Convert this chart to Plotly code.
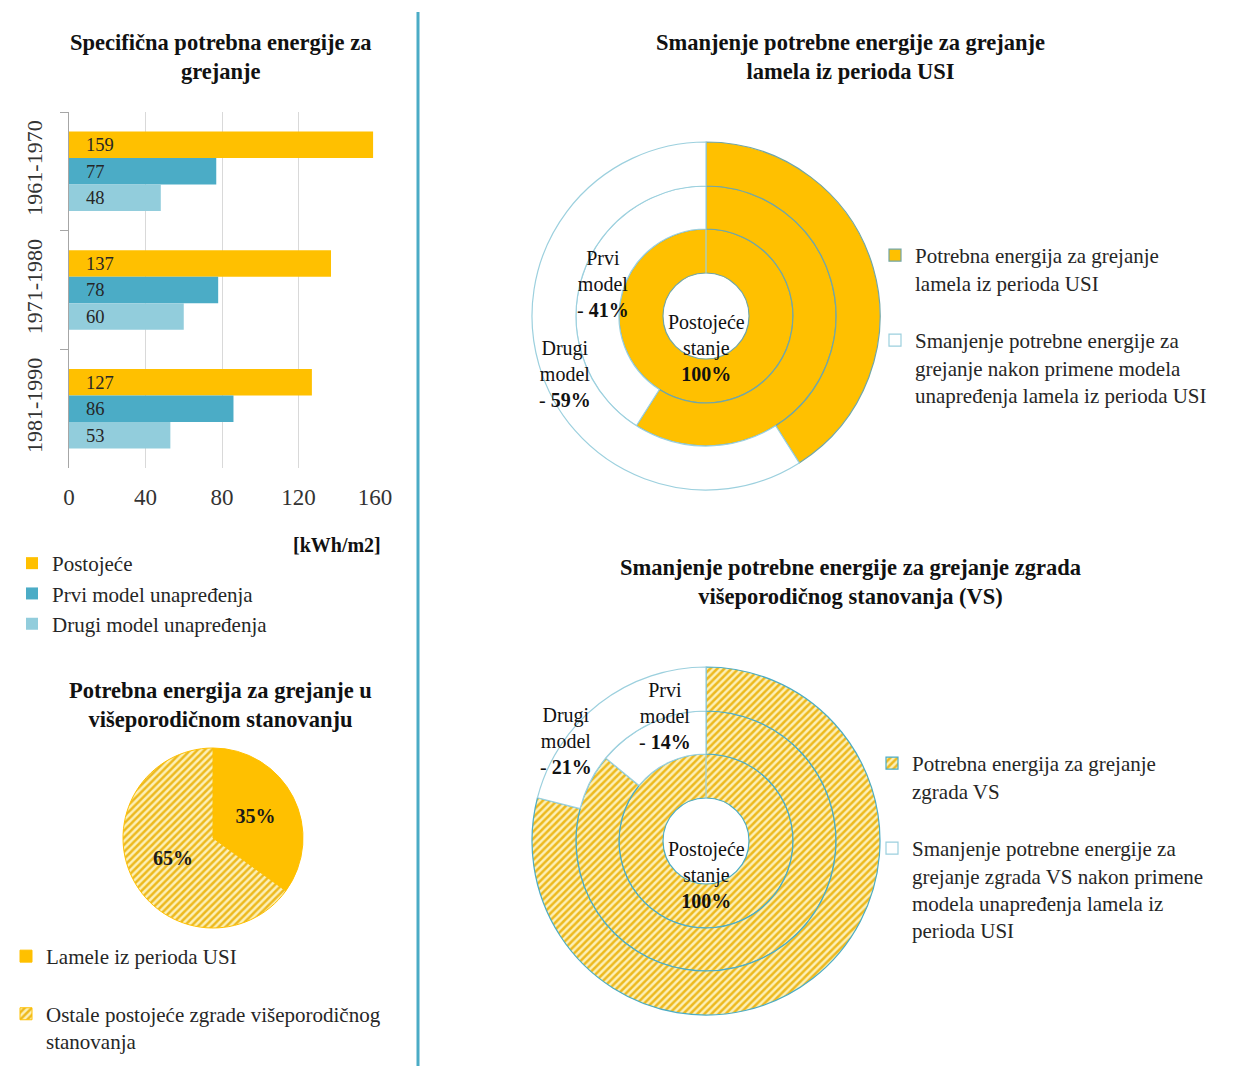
import plotly.graph_objects as go

W, H = 1234, 1066
SERIF = "Liberation Serif"
TEXT = "#262626"

# ---- bar chart data: specific heating energy demand [kWh/m2] ----
periods = ["1961-1970", "1971-1980", "1981-1990"]
existing = [159, 137, 127]
model_1 = [77, 78, 86]
model_2 = [48, 60, 53]
bar_series = ["Postojeće", "Prvi model unapređenja", "Drugi model unapređenja"]
bar_colors = ["#FFC000", "#4BACC6", "#92CDDC"]
x_ticks = [0, 40, 80, 120, 160]

# ---- pie data: share of multi-family housing heating demand [%] ----
share_labels = ["Lamele iz perioda USI<br> ",
                "Ostale postojeće zgrade višeporodičnog<br>stanovanja"]
share_values = [35, 65]

# ---- donut data: remaining demand / reduction per scenario [%] ----
ring_names = ["Postojeće stanje", "Prvi model", "Drugi model"]
usi_remaining = [100, 59, 41]
usi_reduction = [0, 41, 59]
vs_remaining = [100, 86, 79]
vs_reduction = [0, 14, 21]

usi_legend = ["Potrebna energija za grejanje<br>lamela iz perioda USI<br> ",
              "Smanjenje potrebne energije za<br>grejanje nakon primene modela<br>"
              "unapređenja lamela iz perioda USI"]
vs_legend = ["Potrebna energija za grejanje<br>zgrada VS<br> ",
             "Smanjenje potrebne energije za<br>grejanje zgrada VS nakon primene<br>"
             "modela unapređenja lamela iz<br>perioda USI"]


def px(x):
    return x / W


def py(y):
    return 1 - y / H


def circle_domain(cx, cy, r):
    return dict(x=[px(cx - r), px(cx + r)], y=[py(cy + r), py(cy - r)])


HATCH_FG = "#EDB91E"
HATCH_BG = "#FCF0B8"

fig = go.Figure()

# grouped horizontal bars
for name, vals, color in zip(bar_series, [existing, model_1, model_2], bar_colors):
    fig.add_trace(go.Bar(
        y=periods, x=vals, orientation="h", name=name,
        marker=dict(color=color, line=dict(width=0)),
        texttemplate="\u00a0\u00a0\u00a0%{x}", textposition="inside",
        insidetextanchor="start", textangle=0,
        textfont=dict(family=SERIF, size=19, color=TEXT),
        legend="legend", xaxis="x", yaxis="y",
    ))

# share pie
fig.add_trace(go.Pie(
    values=share_values, labels=share_labels, sort=False,
    direction="clockwise", rotation=0,
    domain=circle_domain(213, 838, 90),
    marker=dict(colors=["#FFC000", HATCH_BG],
                pattern=dict(shape=["", "/"], fgcolor=["#FFC000", HATCH_FG],
                             bgcolor=["#FFC000", HATCH_BG], size=5, solidity=0.5),
                line=dict(color="#FFC000", width=1)),
    texttemplate="<b>%{percent:.0%}</b>", textposition="inside",
    insidetextorientation="horizontal",
    textfont=dict(family=SERIF, size=20, color="#1a1a1a"),
    legend="legend2", hoverinfo="label+percent",
))

# concentric donut rings: inner = existing state, then model 1, model 2
RADII = [43, 87, 130, 174]


def add_rings(cx, cy, remaining, reduction, labels, legend_name, hatched):
    for i in range(3):
        if hatched:
            marker = dict(
                colors=[HATCH_BG, "white"],
                pattern=dict(shape=["/", ""], fgcolor=[HATCH_FG, "white"],
                             bgcolor=[HATCH_BG, "white"], size=5, solidity=0.5),
                line=dict(color=["#4BACC6", "#9CD0DE"], width=1.2))
        else:
            marker = dict(colors=["#FFC000", "white"],
                          line=dict(color=["#72A6A6", "#9CD0DE"], width=1.2))
        fig.add_trace(go.Pie(
            values=[remaining[i], reduction[i]], labels=labels,
            name=ring_names[i], sort=False, direction="clockwise", rotation=0,
            hole=RADII[i] / RADII[i + 1],
            domain=circle_domain(cx, cy, RADII[i + 1]),
            marker=marker, textinfo="none",
            showlegend=(i == 1), legend=legend_name,
            hoverinfo="name+label+value",
        ))


add_rings(706, 316, usi_remaining, usi_reduction, usi_legend, "legend3", False)
add_rings(706, 841, vs_remaining, vs_reduction, vs_legend, "legend4", True)


def note(x, y, text, size=20, bold=False):
    return dict(x=px(x), y=py(y), xref="paper", yref="paper", showarrow=False,
                xanchor="center", yanchor="middle", align="center",
                text=f"<b>{text}</b>" if bold else text,
                font=dict(family=SERIF, size=size, color="#111111"))


def ring_label(name, pct):
    first, second = name.split(" ")
    return f"{first}<br>{second}<br>- <b>{pct}%</b>"


annotations = [
    note(220, 57, "Specifična potrebna energije za<br>grejanje", 22.5, True),
    note(220, 705, "Potrebna energija za grejanje u<br>višeporodičnom stanovanju", 22.5, True),
    note(850, 57, "Smanjenje potrebne energije za grejanje<br>lamela iz perioda USI", 22.5, True),
    note(850, 582, "Smanjenje potrebne energije za grejanje zgrada<br>"
                   "višeporodičnog stanovanja (VS)", 22.5, True),
    note(337, 545, "[kWh/m2]", 20, True),
    # donut 1 labels
    note(603, 284, ring_label(ring_names[1], usi_reduction[1])),
    note(565, 374, ring_label(ring_names[2], usi_reduction[2])),
    note(706, 348, f"Postojeće<br>stanje<br><b>{usi_remaining[0]}%</b>"),
    # donut 2 labels
    note(665, 716, ring_label(ring_names[1], vs_reduction[1])),
    note(566, 741, ring_label(ring_names[2], vs_reduction[2])),
    note(706, 875, f"Postojeće<br>stanje<br><b>{vs_remaining[0]}%</b>"),
]

legend_font = dict(family=SERIF, size=21, color=TEXT)
legend_common = dict(xanchor="left", yanchor="top", bgcolor="rgba(0,0,0,0)",
                     font=legend_font, traceorder="normal", valign="top")

fig.update_layout(
    width=W, height=H,
    margin=dict(l=0, r=0, t=0, b=0, autoexpand=False),
    paper_bgcolor="white", plot_bgcolor="white",
    barmode="group", bargap=0.33, bargroupgap=0,
    xaxis=dict(domain=[px(69), px(375)], range=[0, 160], tickvals=x_ticks,
               showgrid=True, gridcolor="#D9D9D9", gridwidth=1, zeroline=False,
               showline=False, ticks="", ticklabelstandoff=13,
               tickfont=dict(family=SERIF, size=23, color="#333333"),
               anchor="y", fixedrange=True),
    yaxis=dict(domain=[py(468), py(112)], categoryorder="array",
               categoryarray=periods, autorange="reversed", tickangle=-90,
               tickson="boundaries", ticks="outside", ticklen=8,
               tickcolor="#A6A6A6", showline=True, linecolor="#A6A6A6",
               linewidth=1, showgrid=False, ticklabelstandoff=17,
               tickfont=dict(family=SERIF, size=22, color="#333333"),
               anchor="x", fixedrange=True),
    legend=dict(x=px(12), y=py(543), **legend_common),
    legend2=dict(x=px(6), y=py(936), **legend_common),
    legend3=dict(x=px(875), y=py(235), **legend_common),
    legend4=dict(x=px(872), y=py(743), **legend_common),
    annotations=annotations,
    shapes=[dict(type="line", xref="paper", yref="paper",
                 x0=px(418), x1=px(418), y0=py(12), y1=py(1066),
                 line=dict(color="#4BACC6", width=3))],
)

fig.write_html("out.html")
